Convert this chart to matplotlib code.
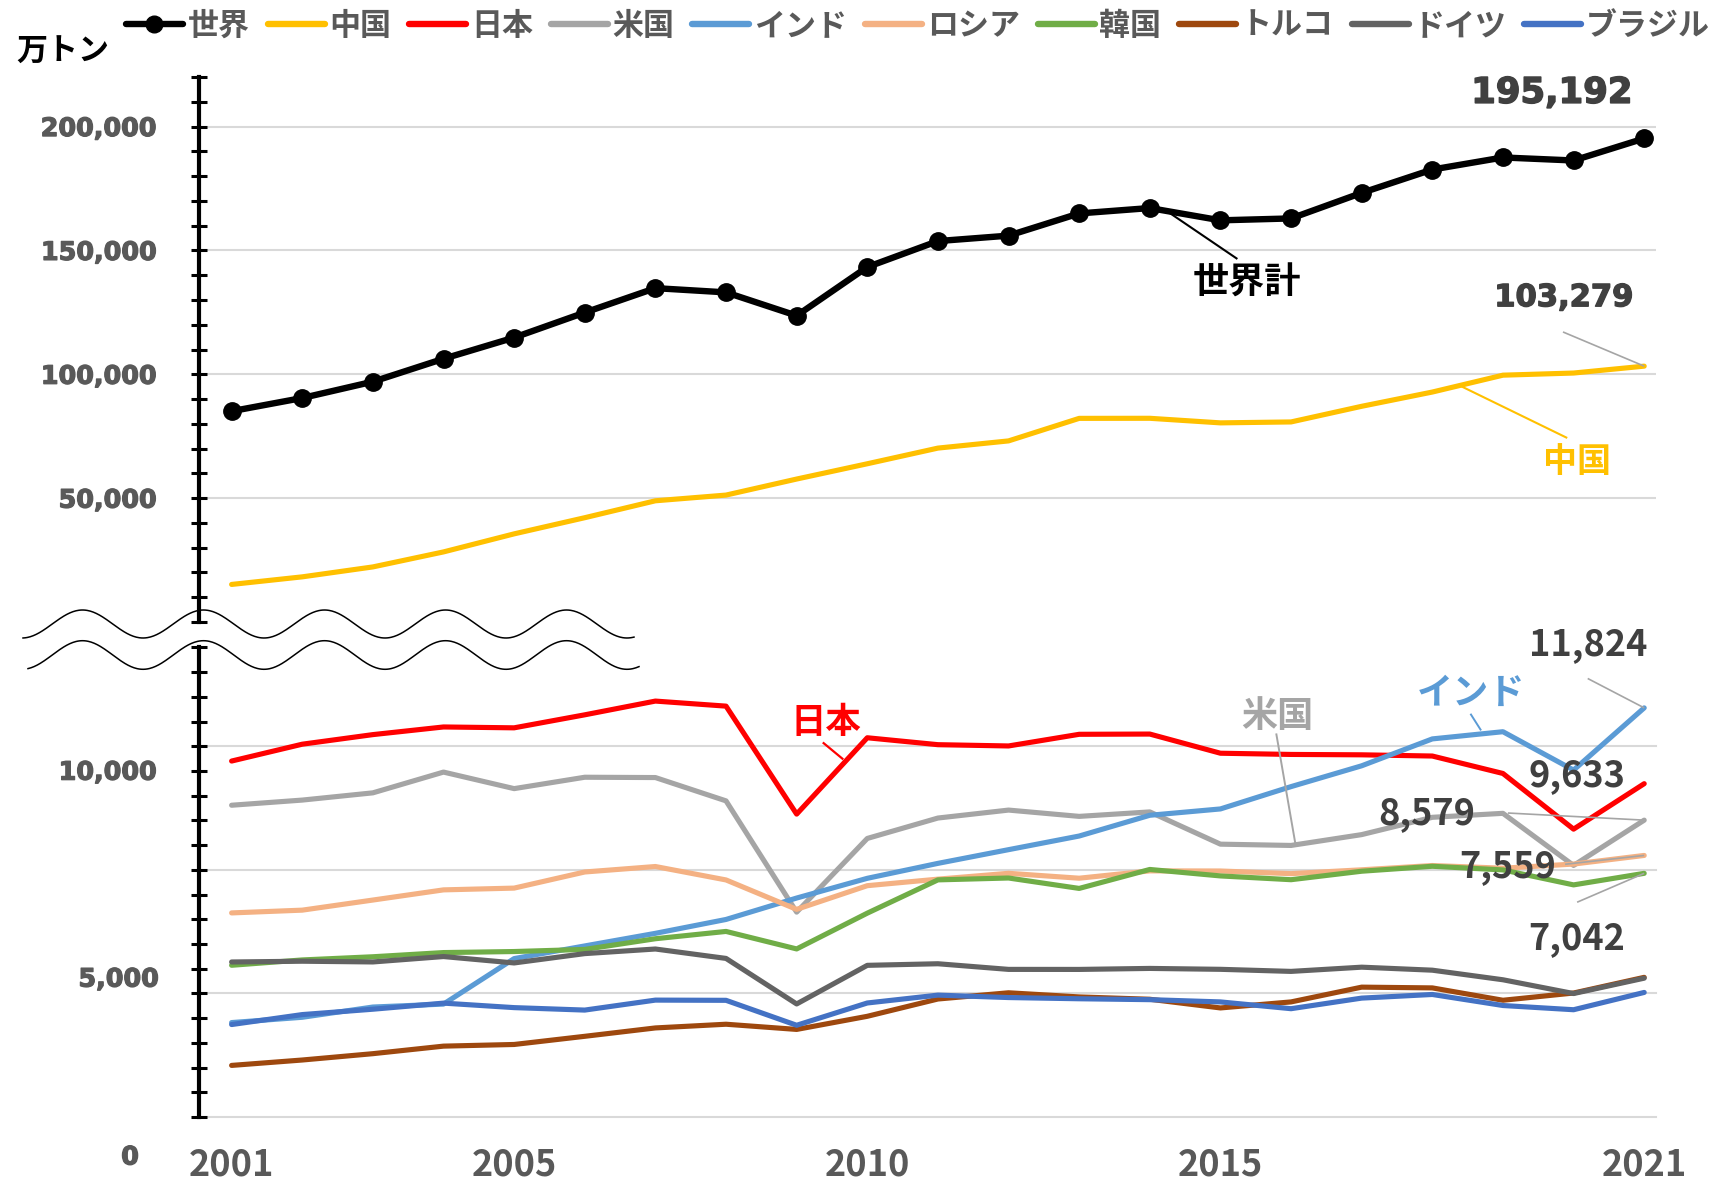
import matplotlib
matplotlib.use("Agg")
import matplotlib.pyplot as plt
from matplotlib.lines import Line2D
from matplotlib.font_manager import FontProperties
from matplotlib.ticker import FixedLocator, NullFormatter
import matplotlib.patheffects as pe
import numpy as np

# ---- data: crude steel production (万トン) ----
years = list(range(2001, 2022))
world = [85099, 90420, 97010, 106260, 114810, 124920, 134770, 133060, 123660, 143280,
         153770, 155960, 164930, 167100, 162140, 162910, 173220, 182650, 187520, 186300, 195192]
china = [15163, 18225, 22234, 28291, 35579, 42102, 48929, 51234, 57707, 63874,
         70197, 73104, 82200, 82231, 80383, 80761, 87074, 92826, 99634, 100500, 103279]
japan = [10287, 10774, 11051, 11272, 11247, 11623, 12020, 11874, 8753, 10960,
         10760, 10723, 11060, 11067, 10513, 10478, 10467, 10432, 9928, 8319, 9633]
usa = [9010, 9159, 9368, 9968, 9490, 9819, 9810, 9136, 5920, 8050,
       8640, 8870, 8688, 8817, 7885, 7848, 8161, 8661, 8776, 7270, 8579]
india = [2729, 2882, 3178, 3263, 4578, 4944, 5308, 5709, 6328, 6898,
         7330, 7726, 8120, 8720, 8903, 9548, 10150, 10927, 11135, 10026, 11824]
russia = [5898, 5978, 6270, 6564, 6615, 7081, 7239, 6851, 6001, 6685,
          6874, 7043, 6901, 7113, 7109, 7033, 7144, 7268, 7190, 7310, 7559]
korea = [4385, 4539, 4631, 4752, 4782, 4843, 5152, 5363, 4857, 5891,
         6853, 6907, 6606, 7154, 6967, 6858, 7103, 7246, 7141, 6708, 7042]
turkey = [1491, 1647, 1830, 2048, 2096, 2332, 2574, 2681, 2531, 2910,
          3410, 3590, 3470, 3403, 3152, 3326, 3753, 3731, 3374, 3583, 4036]
germany = [4480, 4502, 4481, 4637, 4452, 4722, 4855, 4583, 3267, 4383,
           4429, 4266, 4265, 4294, 4268, 4208, 4330, 4243, 3966, 3568, 4012]
brazil = [2672, 2960, 3115, 3291, 3161, 3090, 3378, 3372, 2651, 3295,
          3522, 3452, 3417, 3391, 3326, 3130, 3436, 3541, 3222, 3100, 3600]

names = ["世界", "中国", "日本", "米国", "インド", "ロシア", "韓国", "トルコ", "ドイツ", "ブラジル"]
lower_series = [japan, usa, india, russia, korea, turkey, germany, brazil]
colors = ["#000000", "#FFC000", "#FF0000", "#A5A5A5", "#5B9BD5",
          "#F4B183", "#70AD47", "#9E480E", "#636363", "#4472C4"]

upper_ticks = [50000, 100000, 150000, 200000]
xtick_years = [2001, 2005, 2010, 2015, 2021]

# ---- figure & panels ----
W, H = 1721, 1181
fig = plt.figure(figsize=(W / 100, H / 100), dpi=100)
CJK = ["Noto Sans CJK JP", "DejaVu Sans"]
GRAY_TXT = "#595959"
NUM_TXT = "#404040"
GRID = "#D9D9D9"


def heavy(color, w=0.9):
    # thicken glyphs slightly for a heavier bold look
    return [pe.withStroke(linewidth=w, foreground=color)]


def px_box(left, top, right, bottom):
    return [left / W, 1 - bottom / H, (right - left) / W, (bottom - top) / H]


ax_hi = fig.add_axes(px_box(198.7, 77, 1656, 622))
ax_lo = fig.add_axes(px_box(198.7, 647.4, 1656, 1117))

XLIM = (2000.534, 2021.167)
HI_MAX = 220000
LO_STEP = 50000 / 14          # gridline step of the lower panel
LO_MAX = LO_STEP * 19 / 5

for ax in (ax_hi, ax_lo):
    ax.set_xlim(*XLIM)
    for s in ("top", "right", "bottom"):
        ax.spines[s].set_visible(False)
    ax.spines["left"].set_linewidth(3.0)
    ax.spines["left"].set_color("black")
    ax.tick_params(axis="y", which="both", direction="inout", length=11.5,
                   width=2.2, color="black")
    ax.tick_params(axis="x", which="both", length=0)
    ax.set_facecolor("none")

# upper panel scale
ax_hi.set_ylim(0, HI_MAX)
ax_hi.yaxis.set_major_locator(FixedLocator(upper_ticks))
ax_hi.yaxis.set_minor_locator(FixedLocator(np.arange(0, HI_MAX + 1, 10000)))
ax_hi.set_yticklabels([f"{v:,}" for v in upper_ticks])
ax_hi.tick_params(axis="y", which="major", pad=24.3, labelsize=18.3, labelcolor=GRAY_TXT)
for t in ax_hi.get_yticklabels():
    t.set_fontweight("bold")
    t.set_family("DejaVu Sans")
    t.set_path_effects(heavy(GRAY_TXT))
    t.set_va("center_baseline")
ax_hi.set_xticks([])
for v in upper_ticks:
    ax_hi.axhline(v, color=GRID, lw=1.5, zorder=0.5)

# lower panel scale
ax_lo.set_ylim(0, LO_MAX)
lo_grid = [LO_STEP * k for k in range(4)]
ax_lo.yaxis.set_major_locator(FixedLocator(lo_grid))
ax_lo.yaxis.set_major_formatter(NullFormatter())
ax_lo.yaxis.set_minor_locator(FixedLocator(np.linspace(0, LO_MAX, 20)))
for v in lo_grid:
    ax_lo.axhline(v, color=GRID, lw=1.5, zorder=0.5, clip_on=False)

ax_lo.set_xticks(xtick_years)
ax_lo.set_xticklabels([str(y) for y in xtick_years])
ax_lo.tick_params(axis="x", pad=21.5, labelsize=26, labelcolor=GRAY_TXT)
for t in ax_lo.get_xticklabels():
    t.set_fontweight("bold")
    t.set_family(CJK)

# lower axis labels
ytr = ax_lo.get_yaxis_transform()
lbl_kw = dict(transform=ytr, ha="right", va="center", fontsize=18.3,
              fontweight="bold", color=GRAY_TXT, family="DejaVu Sans",
              path_effects=heavy(GRAY_TXT))
ax_lo.text(-0.0286, 9950, "10,000", **lbl_kw)
ax_lo.text(-0.0272, 3970, "5,000", **lbl_kw)
ax_lo.text(-0.0410, -1170, "0", clip_on=False, **lbl_kw)

# ---- series ----
line_kw = dict(solid_capstyle="round", solid_joinstyle="round")
ax_hi.plot(years, world, color=colors[0], lw=4.6, marker="o", markersize=12.5,
           zorder=5, **line_kw)
ax_hi.plot(years, china, color=colors[1], lw=3.7, zorder=4, **line_kw)
for vals, col in zip(lower_series, colors[2:]):
    ax_lo.plot(years, vals, color=col, lw=3.7, zorder=4, **line_kw)


# ---- annotations ----
def note(ax, text, pos, color, size, family, leader=None, lcolor=None, lw=1.2,
         effects=None):
    if leader is not None:
        (x0, y0), (x1, y1) = leader
        ax.plot([x0, x1], [y0, y1], color=lcolor or color, lw=lw,
                clip_on=False, zorder=6, solid_capstyle="butt")
    ax.text(pos[0], pos[1], text, color=color, fontsize=size, fontweight="bold",
            family=family, ha="center", va="center", zorder=7, clip_on=False,
            path_effects=effects)


LEAD = "#A5A5A5"
note(ax_hi, f"{world[-1]:,}", (2019.69, 213600), NUM_TXT, 25.5, "DejaVu Sans",
     effects=heavy(NUM_TXT, 1.1))
note(ax_hi, f"{china[-1]:,}", (2019.86, 130900), NUM_TXT, 22, "DejaVu Sans",
     leader=((2019.85, 117077), (2021, china[-1])), lcolor=LEAD,
     effects=heavy(NUM_TXT, 1.0))
note(ax_hi, "中国", (2020.05, 64600), colors[1], 24.5, CJK,
     leader=((2019.91, 74283), (2018.40, 95277)), lw=1.5)
note(ax_hi, "世界計", (2015.37, 136600), "#000000", 26, CJK,
     leader=((2014.26, 165523), (2015.24, 146548)), lw=1.5)

note(ax_lo, "日本", (2009.42, 11400), colors[2], 25.5, CJK,
     leader=((2009.37, 10825), (2009.66, 10335)), lw=1.6)
note(ax_lo, "米国", (2015.81, 11560), colors[3], 26, CJK,
     leader=((2015.79, 11085), (2016.06, 7910)), lw=1.4)
note(ax_lo, "インド", (2018.55, 12240), colors[4], 26, CJK,
     leader=((2018.54, 11654), (2018.69, 11172)), lw=1.4)
note(ax_lo, f"{india[-1]:,}", (2020.2, 13640), NUM_TXT, 26, CJK,
     leader=((2020.2, 12673), (2021, india[-1])), lcolor=LEAD)
note(ax_lo, f"{japan[-1]:,}", (2020.05, 9860), NUM_TXT, 26, CJK)
note(ax_lo, f"{usa[-1]:,}", (2017.92, 8780), NUM_TXT, 26, CJK,
     leader=((2019.07, 8785), (2021, usa[-1])), lcolor=LEAD)
note(ax_lo, f"{russia[-1]:,}", (2019.07, 7250), NUM_TXT, 26, CJK,
     leader=((2019.88, 7304), (2021, russia[-1])), lcolor=LEAD)
note(ax_lo, f"{korea[-1]:,}", (2020.04, 5150), NUM_TXT, 26, CJK,
     leader=((2020.05, 6207), (2021, korea[-1])), lcolor=LEAD)

# ---- unit label ----
fig.text(63 / W, 1 - 51.6 / H, "万トン", ha="center", va="center", fontsize=22.3,
         fontweight="bold", color="black", family=CJK)

# ---- legend ----
handles = []
for i, col in enumerate(colors):
    if i == 0:
        handles.append(Line2D([], [], color=col, lw=4.6, marker="o", markersize=12,
                              solid_capstyle="round"))
    else:
        handles.append(Line2D([], [], color=col, lw=4.6, solid_capstyle="round"))
fig.legend(handles, names, loc="center left", bbox_to_anchor=(126 / W, 1 - 26 / H),
           ncol=10, frameon=False, borderpad=0, borderaxespad=0,
           handlelength=1.84, handletextpad=0.15, columnspacing=0.58,
           prop=FontProperties(family=CJK, weight="bold", size=22.3),
           labelcolor=GRAY_TXT)

# ---- axis break marks (wavy lines) ----
ov = fig.add_axes([0, 0, 1, 1], facecolor="none")
ov.set_xlim(0, W)
ov.set_ylim(H, 0)
ov.axis("off")
xs = np.linspace(23, 634, 600)
ov.plot(xs, 624 + 14 * np.cos(2 * np.pi * (xs - 22) / 121), color="black", lw=1.1)
xs2 = np.linspace(28, 639, 600)
ov.plot(xs2, 655 + 14.3 * np.cos(2 * np.pi * (xs2 - 22) / 121), color="black", lw=1.1)

fig.savefig("out.png", dpi=100)
